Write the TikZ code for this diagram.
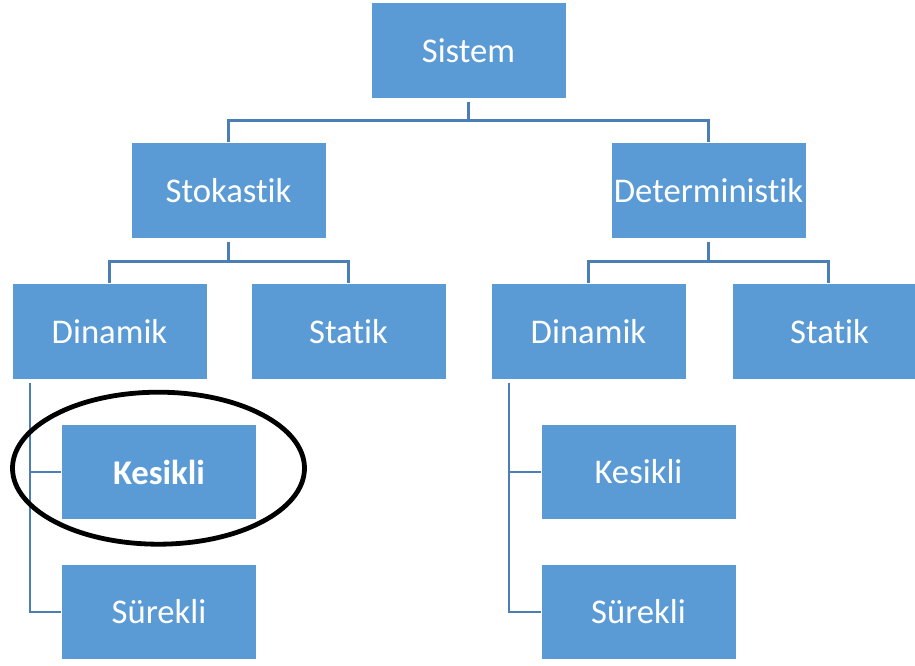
\documentclass[tikz,border=0pt]{standalone}
\usepackage{fontspec}
\setmainfont[RawFeature={-liga;-clig;-calt;-dlig}]{Carlito}
\begin{document}
\definecolor{boxblue}{HTML}{5B9BD5}
\definecolor{linkblue}{HTML}{4A7EB5}
\begin{tikzpicture}[x=0.75pt,y=-0.75pt,
  unit/.style={draw=white,line width=0.6pt,fill=boxblue,minimum width=146.25pt,
    minimum height=71.6pt,inner sep=0pt,text=white,font=\fontsize{26}{30}\selectfont,
    anchor=center},
  link/.style={draw=linkblue,line width=1.6pt},
  mark ring/.style={draw=black,line width=3.6pt}]
\useasboundingbox (0,0) rectangle (915,666);
\begin{scope}
\clip (0,0) rectangle (915,666);
% boxes
\node[unit] (sis) at (468.5,50.5) {Sistem};
\node[unit] (sto) at (228.5,190.5) {Stokastik};
\node[unit] (det) at (708.5,190.5) {Deterministik};
\node[unit] (dinL) at (109.5,331.5) {Dinamik};
\node[unit] (staL) at (348.5,331.5) {Statik};
\node[unit] (dinR) at (588.5,331.5) {Dinamik};
\node[unit] (staR) at (829.5,331.5) {Statik};
\node[unit] (kesL) at (159,472) {\bfseries Kesikli};
\node[unit] (surL) at (159,612) {Sürekli};
\node[unit] (kesR) at (638.5,472) {Kesikli};
\node[unit] (surR) at (638.5,612) {Sürekli};
% branch levels
\coordinate (j1) at (0,120.5);
\coordinate (j2) at (0,261.5);
% tree connectors
\draw[link] ([yshift=-2.2pt]sis.south) -- (sis.south |- j1);
\draw[link] (sto.north) |- (sis.south |- j1) -| (det.north);
\draw[link] ([yshift=-2.2pt]sto.south) -- (sto.south |- j2);
\draw[link] (dinL.north) |- (sto.south |- j2) -| (staL.north);
\draw[link] ([yshift=-2.2pt]det.south) -- (det.south |- j2);
\draw[link] (dinR.north) |- (det.south |- j2) -| ([xshift=-0.75pt]staR.north);
% side branches under Dinamik
\coordinate (tL) at ([xshift=13.5pt,yshift=-2.2pt]dinL.south west);
\coordinate (tR) at ([xshift=13.5pt,yshift=-2.2pt]dinR.south west);
\draw[link] (tL) |- (surL.west);
\draw[link] (tL |- kesL.west) -- (kesL.west);
\draw[link] (tR) |- (surR.west);
\draw[link] (tR |- kesR.west) -- (kesR.west);
% highlight around the discrete stochastic case
\draw[mark ring] (158.5,468.2) ellipse [x radius=109.5pt, y radius=57pt];
\end{scope}
\end{tikzpicture}
\end{document}
